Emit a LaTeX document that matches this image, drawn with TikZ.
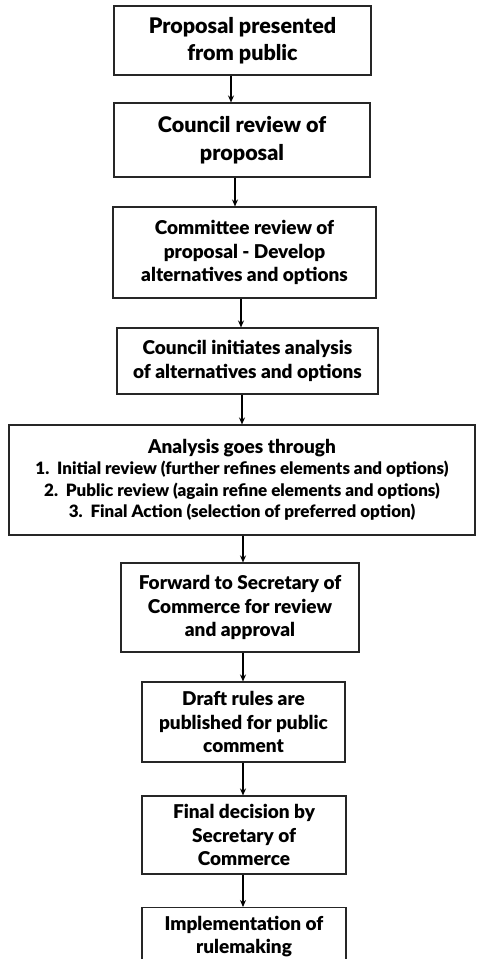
\documentclass[tikz,border=0pt]{standalone}
\usepackage{fontspec}
\setmainfont{Lato}[BoldFont={Lato Black}]
\usetikzlibrary{arrows.meta}
\begin{document}
\begin{tikzpicture}[x=1pt,y=-1pt,
  box/.style={draw=black!85, line width=1.1pt, align=center, inner sep=2pt, font=\bfseries\fontsize{19}{23.5}\selectfont},
  bigbox/.style={box, font=\bfseries\fontsize{21.5}{27.5}\selectfont},
  widebox/.style={box, font=\bfseries\fontsize{17}{21.5}\selectfont},
  arr/.style={line width=1.1pt, -{Stealth[length=7pt,width=6pt]}}]
\useasboundingbox (0,0) rectangle (478,959);
\node[bigbox, minimum width=257pt, minimum height=69pt] (b1) at (242.5,40.5) {Proposal presented\\from public};
\node[bigbox, minimum width=256pt, minimum height=74pt] (b2) at (242,140) {Council review of\\proposal};
\node[box, minimum width=263pt, minimum height=91pt] (b3) at (244.5,252.5) {Committee review of\\proposal - Develop\\alternatives and options};
\node[box, minimum width=261pt, minimum height=66pt] (b4) at (247.5,361) {Council initiates analysis\\of alternatives and options};
\node[widebox, minimum width=466pt, minimum height=110pt] (b5) at (242,480) {{\fontsize{19}{21.5}\selectfont Analysis goes through}\\1.\ \ Initial review (further refines elements and options)\\2.\ \ Public review (again refine elements and options)\\3.\ \ Final Action (selection of preferred option)};
\node[box, minimum width=238pt, minimum height=89pt] (b6) at (240,607.5) {Forward to Secretary of\\Commerce for review\\and approval};
\node[box, minimum width=203pt, minimum height=80pt] (b7) at (243.5,722) {Draft rules are\\published for public\\comment};
\node[box, minimum width=204pt, minimum height=78pt] (b8) at (244,835) {Final decision by\\Secretary of\\Commerce};
\node[box, minimum width=204pt, minimum height=58pt, anchor=north] (b9) at (244,907) {Implementation of\\rulemaking};
\draw[arr] ([xshift=-11.5pt]b1.south) -- ([xshift=-11.5pt]b1.south |- b2.north);
\draw[arr] ([xshift=-7pt]b2.south) -- ([xshift=-7pt]b2.south |- b3.north);
\draw[arr] ([xshift=-3.5pt]b3.south) -- ([xshift=-3.5pt]b3.south |- b4.north);
\draw[arr] ([xshift=-5.5pt]b4.south) -- ([xshift=-5.5pt]b4.south |- b5.north);
\draw[arr] ([xshift=1pt]b5.south) -- ([xshift=1pt]b5.south |- b6.north);
\draw[arr] ([xshift=3pt]b6.south) -- ([xshift=3pt]b6.south |- b7.north);
\draw[arr] ([xshift=-0.5pt]b7.south) -- ([xshift=-0.5pt]b7.south |- b8.north);
\draw[arr] ([xshift=-1pt]b8.south) -- ([xshift=-1pt]b8.south |- b9.north);
\end{tikzpicture}
\end{document}
